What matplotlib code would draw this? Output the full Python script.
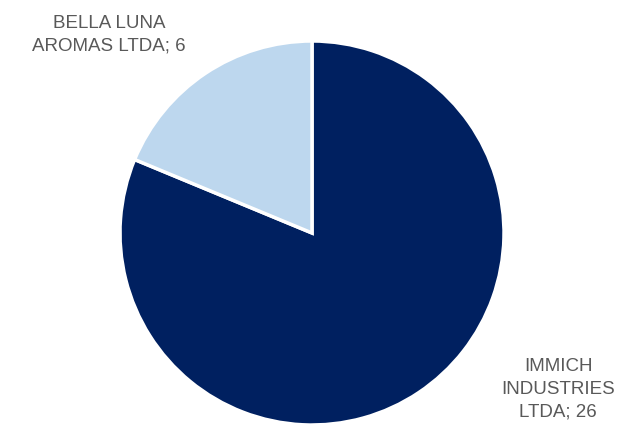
import matplotlib
matplotlib.use("Agg")
import matplotlib.pyplot as plt

# dados do gráfico
empresas = ["IMMICH\nINDUSTRIES\nLTDA", "BELLA LUNA\nAROMAS LTDA"]
quantidades = [26, 6]
cores = ["#002060", "#BDD7EE"]

W, H = 618, 428
fig = plt.figure(figsize=(W / 100, H / 100), dpi=100)
ax = fig.add_axes([0, 0, 1, 1])

ax.pie(quantidades, colors=cores, startangle=90, counterclock=False,
       center=(312, H - 233), radius=192, frame=True,
       wedgeprops=dict(edgecolor="white", linewidth=2.5))
ax.set_xlim(0, W)
ax.set_ylim(0, H)
ax.set_aspect("equal")
ax.axis("off")

# rótulos
posicoes = [(558, H - 389), (109, H - 35)]
for nome, qtd, (x, y) in zip(empresas, quantidades, posicoes):
    ax.text(x, y, f"{nome}; {qtd}", ha="center", va="center",
            fontsize=13.5, color="#595959", family="Liberation Sans",
            linespacing=1.45)

fig.savefig("out.png", dpi=100)
